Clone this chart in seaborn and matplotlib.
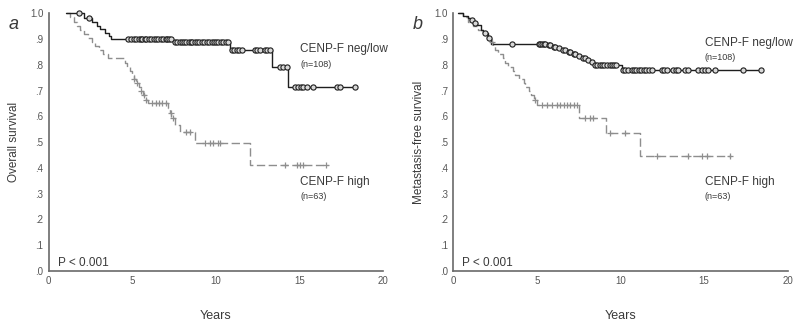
import numpy as np
import matplotlib
matplotlib.use("Agg")
import matplotlib.pyplot as plt
import seaborn as sns

sns.set_theme(style="white")
plt.rcParams['font.family'] = ['Liberation Sans', 'DejaVu Sans']

# ---------------- data ----------------
# Panel a: overall survival
a_low_t = [1.05, 2.1, 2.6, 2.9, 3.1, 3.35, 3.6, 3.75, 7.45, 10.86, 13.35, 14.35, 18.35]
a_low_s = [1.0, 0.98, 0.965, 0.952, 0.94, 0.925, 0.91, 0.899, 0.888, 0.858, 0.793, 0.715, 0.715]
a_low_c = [1.84, 2.4, 4.75, 4.95, 5.1, 5.25, 5.4, 5.5, 5.6, 5.75, 5.85, 6.0, 6.15, 6.3,
           6.45, 6.55, 6.7, 6.85, 7.0, 7.1, 7.2, 7.35, 7.55, 7.7, 7.85, 8.0, 8.1, 8.25,
           8.4, 8.5, 8.6, 8.75, 8.9, 9.0, 9.15, 9.3, 9.45, 9.6, 9.75, 9.9, 10.0, 10.15,
           10.3, 10.45, 10.6, 10.75, 10.96, 11.1, 11.25, 11.4, 11.56, 12.35, 12.5, 12.65,
           12.95, 13.1, 13.25, 13.85, 14.05, 14.25, 14.75, 14.95, 15.1, 15.25, 15.45,
           15.85, 17.25, 17.45, 18.35]

a_high_t = [1.05, 1.3, 1.5, 1.7, 1.9, 2.1, 2.35, 2.6, 2.8, 3.0, 3.25, 3.55, 4.55, 4.7,
            4.85, 5.0, 5.1, 5.25, 5.4, 5.5, 5.65, 5.8, 5.95, 7.15, 7.25, 7.35, 7.55,
            7.85, 8.76, 12.05, 16.75]
a_high_s = [1.0, 0.984, 0.968, 0.952, 0.937, 0.921, 0.905, 0.889, 0.873, 0.857, 0.841,
            0.825, 0.809, 0.793, 0.777, 0.761, 0.745, 0.729, 0.713, 0.697, 0.681, 0.665,
            0.65, 0.632, 0.614, 0.595, 0.565, 0.54, 0.495, 0.411, 0.411]
a_high_c = [5.12, 5.3, 5.55, 5.7, 5.85, 6.2, 6.4, 6.6, 6.8, 7.0, 7.3, 7.42, 8.2, 8.45,
            9.36, 9.66, 9.86, 10.16, 10.26, 14.15, 14.85, 15.05, 15.2, 16.6]

# Panel b: metastasis-free survival
b_low_t = [0.28, 0.6, 0.88, 1.0, 1.15, 1.4, 1.65, 1.8, 2.1, 2.27, 5.6, 5.9, 6.2, 6.45,
           6.8, 7.1, 7.4, 7.65, 7.95, 8.2, 8.4, 10.07, 18.38]
b_low_s = [1.0, 0.991, 0.982, 0.972, 0.963, 0.953, 0.935, 0.925, 0.905, 0.88, 0.875,
           0.87, 0.864, 0.857, 0.849, 0.843, 0.836, 0.828, 0.82, 0.812, 0.80, 0.78, 0.78]
b_low_c = [1.1, 1.3, 1.9, 2.15, 3.53, 5.13, 5.2, 5.3, 5.4, 5.5, 5.7, 5.8, 6.0, 6.1, 6.3,
           6.55, 6.7, 6.9, 7.0, 7.2, 7.3, 7.5, 7.75, 7.85, 8.05, 8.3, 8.5, 8.6, 8.75, 8.9,
           9.0, 9.2, 9.4, 9.5, 9.6, 9.75, 10.15, 10.3, 10.45, 10.67, 10.8, 10.95, 11.1,
           11.25, 11.4, 11.55, 11.7, 11.87, 12.46, 12.6, 12.76, 13.16, 13.3, 13.46,
           13.86, 14.06, 14.65, 14.85, 15.05, 15.25, 15.65, 17.35, 18.38]

b_high_t = [0.28, 0.6, 0.9, 1.2, 1.5, 1.75, 2.0, 2.25, 2.35, 2.5, 2.7, 2.95, 3.1, 3.3,
            3.55, 3.7, 3.95, 4.2, 4.3, 4.5, 4.65, 4.8, 5.0, 7.5, 9.13, 11.17, 16.6]
b_high_s = [1.0, 0.984, 0.968, 0.952, 0.937, 0.921, 0.905, 0.889, 0.873, 0.857, 0.841,
            0.825, 0.809, 0.793, 0.777, 0.761, 0.745, 0.729, 0.713, 0.697, 0.681, 0.665,
            0.645, 0.595, 0.534, 0.445, 0.445]
b_high_c = [2.3, 4.9, 5.3, 5.6, 5.9, 6.2, 6.4, 6.6, 6.8, 7.0, 7.2, 7.4, 7.88, 8.17, 8.37,
            9.37, 10.27, 12.17, 14.06, 14.86, 15.16, 16.55]

x_ticks = [0, 5, 10, 15, 20]
y_ticks = [0.0, 0.1, 0.2, 0.3, 0.4, 0.5, 0.6, 0.7, 0.8, 0.9, 1.0]
y_ticklabels = ['.0', '.1', '.2', '.3', '.4', '.5', '.6', '.7', '.8', '.9', '1.0']

panels = [
    dict(letter='a', ylabel='Overall survival', low_lab_y=(0.86, 0.80),
         low=(a_low_t, a_low_s, a_low_c), high=(a_high_t, a_high_s, a_high_c)),
    dict(letter='b', ylabel='Metastasis-free survival', low_lab_y=(0.886, 0.829),
         low=(b_low_t, b_low_s, b_low_c), high=(b_high_t, b_high_s, b_high_c)),
]

BLACK = '#1e1e1e'
GRAY = '#8e8e8e'
TEXT = '#3a3a3a'


def step_value(t, s, c):
    t = np.asarray(t)
    s = np.asarray(s)
    idx = np.searchsorted(t, np.asarray(c), side='right') - 1
    return s[np.clip(idx, 0, len(s) - 1)]


fig = plt.figure(figsize=(8.0, 3.28), dpi=100)
positions = [[0.0609, 0.1738, 0.4175, 0.7857], [0.5666, 0.1738, 0.418, 0.7857]]

for pos, p in zip(positions, panels):
    ax = fig.add_axes(pos)
    ht, hs, hc = p['high']
    lt, ls, lc = p['low']

    sns.lineplot(x=ht, y=hs, ax=ax, drawstyle='steps-post', estimator=None, sort=False,
                 color=GRAY, linewidth=1.0, linestyle=(0, (6, 2.5)), clip_on=False)
    sns.scatterplot(x=hc, y=step_value(ht, hs, hc), ax=ax, marker='+', s=20,
                    color=GRAY, linewidth=0.9, clip_on=False, zorder=3)

    sns.lineplot(x=lt, y=ls, ax=ax, drawstyle='steps-post', estimator=None, sort=False,
                 color=BLACK, linewidth=1.0, clip_on=False)
    sns.scatterplot(x=lc, y=step_value(lt, ls, lc), ax=ax, marker='o', s=14,
                    facecolor='#d8d8d8', edgecolor=BLACK, linewidth=0.8,
                    clip_on=False, zorder=4)

    ax.set_xlim(0, 20)
    ax.set_ylim(0, 1)
    ax.set_xticks(x_ticks)
    ax.set_xticklabels([str(v) for v in x_ticks])
    ax.set_yticks(y_ticks)
    ax.set_yticklabels(y_ticklabels)
    for sp in ['top', 'right']:
        ax.spines[sp].set_visible(False)
    for sp in ['left', 'bottom']:
        ax.spines[sp].set_color('#6a6a6a')
        ax.spines[sp].set_linewidth(1.2)
    ax.tick_params(axis='both', direction='inout', length=2.5, width=2.0,
                   colors=BLACK, labelcolor='#555555', labelsize=7, pad=2.5)
    ax.set_xlabel('Years', fontsize=9, color=TEXT, labelpad=17)
    ax.set_ylabel(p['ylabel'], fontsize=8.5, color=TEXT, labelpad=7)

    y1, y2 = p['low_lab_y']
    ax.text(15.05, y1, 'CENP-F neg/low', fontsize=8.5, color=TEXT, va='center', ha='left')
    ax.text(15.05, y2, '(n=108)', fontsize=6.5, color=TEXT, va='center', ha='left')
    ax.text(15.05, 0.347, 'CENP-F high', fontsize=8.5, color=TEXT, va='center', ha='left')
    ax.text(15.05, 0.291, '(n=63)', fontsize=6.5, color=TEXT, va='center', ha='left')
    ax.text(0.55, 0.03, 'P < 0.001', fontsize=8.5, color=TEXT, va='center', ha='left')
    ax.text(-0.105, 0.955, p['letter'], transform=ax.transAxes, fontsize=13,
            fontstyle='italic', color=TEXT, va='center', ha='center')

fig.savefig('out.png', dpi=100)
